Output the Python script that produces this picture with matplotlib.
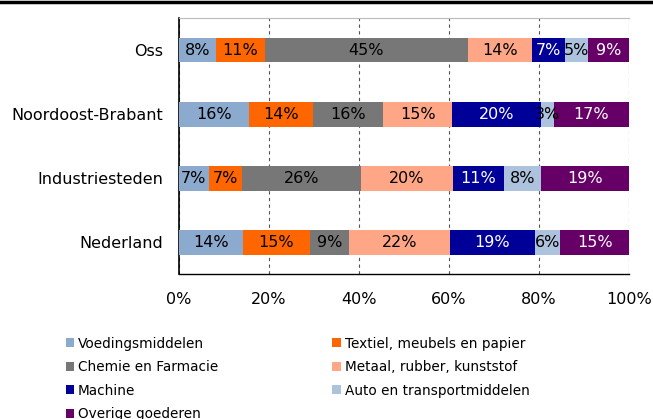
import matplotlib.pyplot as plt
import numpy as np

plt.rcParams['font.family'] = ['DejaVu Sans']

regions = ['Oss', 'Noordoost-Brabant', 'Industriesteden', 'Nederland']
sectors = ['Voedingsmiddelen', 'Textiel, meubels en papier', 'Chemie en Farmacie',
           'Metaal, rubber, kunststof', 'Machine', 'Auto en transportmiddelen',
           'Overige goederen']
colors = ['#8BAACE', '#FF6600', '#777777', '#FFA687', '#000099', '#ADC2DC', '#660066']
text_colors = ['black', 'black', 'black', 'black', 'white', 'black', 'white']

# share per sector (%), one list per sector, in the order of regions
voeding = [8.3, 15.6, 6.8, 14.3]
textiel = [10.8, 14.3, 7.3, 14.8]
chemie = [45.1, 15.6, 26.4, 8.8]
metaal = [14.4, 15.3, 20.4, 22.4]
machine = [7.3, 19.6, 11.3, 18.8]
auto = [5.0, 3.0, 8.4, 5.7]
overig = [9.1, 16.6, 19.4, 15.2]
series = [voeding, textiel, chemie, metaal, machine, auto, overig]

fig = plt.figure(figsize=(6.53, 4.19), dpi=100)
ax = fig.add_axes([0.2735, 0.346, 0.6895, 0.611])

y = np.arange(len(regions))
left = np.zeros(len(regions))
handles = []
for name, vals, col, tcol in zip(sectors, series, colors, text_colors):
    vals = np.array(vals)
    bars = ax.barh(y, vals, left=left, height=0.39, color=col, label=name, zorder=3)
    handles.append(bars)
    for yi, l, v in zip(y, left, vals):
        ax.text(l + v / 2, yi, f"{v:.0f}%", ha='center', va='center',
                color=tcol, fontsize=11.5, zorder=4)
    left += vals

ax.set_xlim(0, 100)
ax.set_ylim(3.5, -0.5)
ax.set_yticks(y)
ax.set_yticklabels(regions, fontsize=11.5)
ax.set_xticks([0, 20, 40, 60, 80, 100])
ax.set_xticklabels(['0%', '20%', '40%', '60%', '80%', '100%'], fontsize=11.5)
ax.tick_params(axis='both', length=0)
ax.tick_params(axis='x', pad=13)
ax.tick_params(axis='y', pad=11)
ax.grid(axis='x', linestyle=(0, (3, 3)), color='#555555', linewidth=0.8, zorder=0)
ax.spines['right'].set_visible(False)
ax.spines['top'].set_color('#BBBBBB')
ax.spines['left'].set_linewidth(1.2)
ax.spines['bottom'].set_linewidth(1.0)

# legend goes row by row in the reference: reorder for column filling
order = [0, 2, 4, 6, 1, 3, 5]
fig.legend([handles[i] for i in order], [sectors[i] for i in order],
           loc='upper left', bbox_to_anchor=(0.09, 0.213), ncol=2, frameon=False,
           fontsize=9.8, handlelength=0.6, handleheight=0.6, handletextpad=0.3,
           columnspacing=8.4, labelspacing=0.7, borderpad=0)

# top rule left over from the heading above the chart
fig.add_artist(plt.Line2D([0, 1], [0.995, 0.995], color='black', linewidth=2.5))

fig.savefig('out.png', dpi=100)
